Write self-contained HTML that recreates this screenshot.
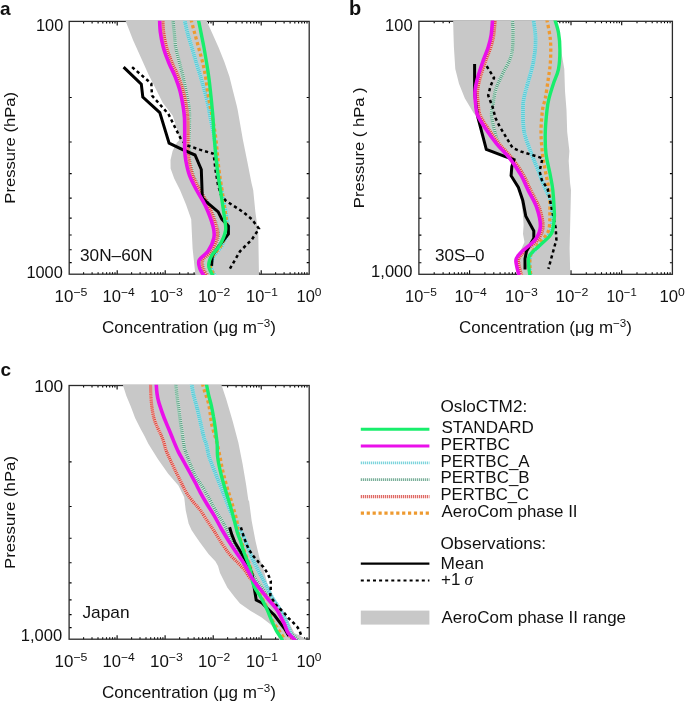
<!DOCTYPE html><html><head><meta charset="utf-8"><style>html,body{margin:0;padding:0;background:#fff;overflow:hidden;width:685px;height:703px;}svg{display:block;filter:blur(0.35px);}text{font-family:"Liberation Sans", sans-serif;fill:#111;}</style></head><body>
<svg width="685" height="703" viewBox="0 0 685 703">
<rect width="685" height="703" fill="#fff"/>
<defs>
<clipPath id="ca"><rect x="68.5" y="20.7" width="241.4" height="254.2"/></clipPath>
<clipPath id="cb"><rect x="418.2" y="20.6" width="254.9" height="254.4"/></clipPath>
<clipPath id="cc"><rect x="68.4" y="384.8" width="241.5" height="255.1"/></clipPath>
</defs>
<path d="M83.6 274.2 v-2 M83.6 21.4 v2 M92.1 274.2 v-2 M92.1 21.4 v2 M98.1 274.2 v-2 M98.1 21.4 v2 M102.8 274.2 v-2 M102.8 21.4 v2 M106.6 274.2 v-2 M106.6 21.4 v2 M109.8 274.2 v-2 M109.8 21.4 v2 M112.5 274.2 v-2 M112.5 21.4 v2 M115 274.2 v-2 M115 21.4 v2 M117.2 274.2 v-4 M117.2 21.4 v4 M131.6 274.2 v-2 M131.6 21.4 v2 M140.1 274.2 v-2 M140.1 21.4 v2 M146.1 274.2 v-2 M146.1 21.4 v2 M150.8 274.2 v-2 M150.8 21.4 v2 M154.6 274.2 v-2 M154.6 21.4 v2 M157.8 274.2 v-2 M157.8 21.4 v2 M160.5 274.2 v-2 M160.5 21.4 v2 M163 274.2 v-2 M163 21.4 v2 M165.2 274.2 v-4 M165.2 21.4 v4 M179.6 274.2 v-2 M179.6 21.4 v2 M188.1 274.2 v-2 M188.1 21.4 v2 M194.1 274.2 v-2 M194.1 21.4 v2 M198.8 274.2 v-2 M198.8 21.4 v2 M202.6 274.2 v-2 M202.6 21.4 v2 M205.8 274.2 v-2 M205.8 21.4 v2 M208.5 274.2 v-2 M208.5 21.4 v2 M211 274.2 v-2 M211 21.4 v2 M213.2 274.2 v-4 M213.2 21.4 v4 M227.6 274.2 v-2 M227.6 21.4 v2 M236.1 274.2 v-2 M236.1 21.4 v2 M242.1 274.2 v-2 M242.1 21.4 v2 M246.8 274.2 v-2 M246.8 21.4 v2 M250.6 274.2 v-2 M250.6 21.4 v2 M253.8 274.2 v-2 M253.8 21.4 v2 M256.5 274.2 v-2 M256.5 21.4 v2 M259 274.2 v-2 M259 21.4 v2 M261.2 274.2 v-4 M261.2 21.4 v4 M275.6 274.2 v-2 M275.6 21.4 v2 M284.1 274.2 v-2 M284.1 21.4 v2 M290.1 274.2 v-2 M290.1 21.4 v2 M294.8 274.2 v-2 M294.8 21.4 v2 M298.6 274.2 v-2 M298.6 21.4 v2 M301.8 274.2 v-2 M301.8 21.4 v2 M304.5 274.2 v-2 M304.5 21.4 v2 M307 274.2 v-2 M307 21.4 v2 M69.2 97.5 h2.5 M309.2 97.5 h-2.5 M69.2 142 h2.5 M309.2 142 h-2.5 M69.2 173.6 h2.5 M309.2 173.6 h-2.5 M69.2 198.1 h2.5 M309.2 198.1 h-2.5 M69.2 218.1 h2.5 M309.2 218.1 h-2.5 M69.2 235 h2.5 M309.2 235 h-2.5 M69.2 249.7 h2.5 M309.2 249.7 h-2.5 M69.2 262.6 h2.5 M309.2 262.6 h-2.5" stroke="#000" stroke-width="1.1" fill="none"/>
<rect x="69.2" y="21.4" width="240" height="252.8" fill="none" stroke="#2a2a2a" stroke-width="1.3"/>
<path d="M434.2 274.3 v-2 M434.2 21.3 v2 M443.1 274.3 v-2 M443.1 21.3 v2 M449.4 274.3 v-2 M449.4 21.3 v2 M454.3 274.3 v-2 M454.3 21.3 v2 M458.4 274.3 v-2 M458.4 21.3 v2 M461.7 274.3 v-2 M461.7 21.3 v2 M464.7 274.3 v-2 M464.7 21.3 v2 M467.3 274.3 v-2 M467.3 21.3 v2 M469.6 274.3 v-4 M469.6 21.3 v4 M484.9 274.3 v-2 M484.9 21.3 v2 M493.8 274.3 v-2 M493.8 21.3 v2 M500.1 274.3 v-2 M500.1 21.3 v2 M505 274.3 v-2 M505 21.3 v2 M509.1 274.3 v-2 M509.1 21.3 v2 M512.4 274.3 v-2 M512.4 21.3 v2 M515.4 274.3 v-2 M515.4 21.3 v2 M518 274.3 v-2 M518 21.3 v2 M520.3 274.3 v-4 M520.3 21.3 v4 M535.6 274.3 v-2 M535.6 21.3 v2 M544.5 274.3 v-2 M544.5 21.3 v2 M550.8 274.3 v-2 M550.8 21.3 v2 M555.7 274.3 v-2 M555.7 21.3 v2 M559.8 274.3 v-2 M559.8 21.3 v2 M563.1 274.3 v-2 M563.1 21.3 v2 M566.1 274.3 v-2 M566.1 21.3 v2 M568.7 274.3 v-2 M568.7 21.3 v2 M571 274.3 v-4 M571 21.3 v4 M586.3 274.3 v-2 M586.3 21.3 v2 M595.2 274.3 v-2 M595.2 21.3 v2 M601.5 274.3 v-2 M601.5 21.3 v2 M606.4 274.3 v-2 M606.4 21.3 v2 M610.5 274.3 v-2 M610.5 21.3 v2 M613.8 274.3 v-2 M613.8 21.3 v2 M616.8 274.3 v-2 M616.8 21.3 v2 M619.4 274.3 v-2 M619.4 21.3 v2 M621.7 274.3 v-4 M621.7 21.3 v4 M637 274.3 v-2 M637 21.3 v2 M645.9 274.3 v-2 M645.9 21.3 v2 M652.2 274.3 v-2 M652.2 21.3 v2 M657.1 274.3 v-2 M657.1 21.3 v2 M661.2 274.3 v-2 M661.2 21.3 v2 M664.5 274.3 v-2 M664.5 21.3 v2 M667.5 274.3 v-2 M667.5 21.3 v2 M670.1 274.3 v-2 M670.1 21.3 v2 M418.9 97.5 h2.5 M672.4 97.5 h-2.5 M418.9 142 h2.5 M672.4 142 h-2.5 M418.9 173.6 h2.5 M672.4 173.6 h-2.5 M418.9 198.1 h2.5 M672.4 198.1 h-2.5 M418.9 218.2 h2.5 M672.4 218.2 h-2.5 M418.9 235.1 h2.5 M672.4 235.1 h-2.5 M418.9 249.8 h2.5 M672.4 249.8 h-2.5 M418.9 262.7 h2.5 M672.4 262.7 h-2.5" stroke="#000" stroke-width="1.1" fill="none"/>
<rect x="418.9" y="21.3" width="253.5" height="253" fill="none" stroke="#2a2a2a" stroke-width="1.3"/>
<path d="M83.6 639.2 v-2 M83.6 385.5 v2 M92 639.2 v-2 M92 385.5 v2 M98 639.2 v-2 M98 385.5 v2 M102.7 639.2 v-2 M102.7 385.5 v2 M106.5 639.2 v-2 M106.5 385.5 v2 M109.7 639.2 v-2 M109.7 385.5 v2 M112.5 639.2 v-2 M112.5 385.5 v2 M114.9 639.2 v-2 M114.9 385.5 v2 M117.1 639.2 v-4 M117.1 385.5 v4 M131.6 639.2 v-2 M131.6 385.5 v2 M140 639.2 v-2 M140 385.5 v2 M146 639.2 v-2 M146 385.5 v2 M150.7 639.2 v-2 M150.7 385.5 v2 M154.5 639.2 v-2 M154.5 385.5 v2 M157.7 639.2 v-2 M157.7 385.5 v2 M160.5 639.2 v-2 M160.5 385.5 v2 M162.9 639.2 v-2 M162.9 385.5 v2 M165.1 639.2 v-4 M165.1 385.5 v4 M179.6 639.2 v-2 M179.6 385.5 v2 M188.1 639.2 v-2 M188.1 385.5 v2 M194.1 639.2 v-2 M194.1 385.5 v2 M198.7 639.2 v-2 M198.7 385.5 v2 M202.5 639.2 v-2 M202.5 385.5 v2 M205.7 639.2 v-2 M205.7 385.5 v2 M208.5 639.2 v-2 M208.5 385.5 v2 M211 639.2 v-2 M211 385.5 v2 M213.2 639.2 v-4 M213.2 385.5 v4 M227.6 639.2 v-2 M227.6 385.5 v2 M236.1 639.2 v-2 M236.1 385.5 v2 M242.1 639.2 v-2 M242.1 385.5 v2 M246.7 639.2 v-2 M246.7 385.5 v2 M250.5 639.2 v-2 M250.5 385.5 v2 M253.7 639.2 v-2 M253.7 385.5 v2 M256.5 639.2 v-2 M256.5 385.5 v2 M259 639.2 v-2 M259 385.5 v2 M261.2 639.2 v-4 M261.2 385.5 v4 M275.6 639.2 v-2 M275.6 385.5 v2 M284.1 639.2 v-2 M284.1 385.5 v2 M290.1 639.2 v-2 M290.1 385.5 v2 M294.7 639.2 v-2 M294.7 385.5 v2 M298.5 639.2 v-2 M298.5 385.5 v2 M301.8 639.2 v-2 M301.8 385.5 v2 M304.5 639.2 v-2 M304.5 385.5 v2 M307 639.2 v-2 M307 385.5 v2 M69.1 461.9 h2.5 M309.2 461.9 h-2.5 M69.1 506.5 h2.5 M309.2 506.5 h-2.5 M69.1 538.2 h2.5 M309.2 538.2 h-2.5 M69.1 562.8 h2.5 M309.2 562.8 h-2.5 M69.1 582.9 h2.5 M309.2 582.9 h-2.5 M69.1 599.9 h2.5 M309.2 599.9 h-2.5 M69.1 614.6 h2.5 M309.2 614.6 h-2.5 M69.1 627.6 h2.5 M309.2 627.6 h-2.5" stroke="#000" stroke-width="1.1" fill="none"/>
<rect x="69.1" y="385.5" width="240.1" height="253.7" fill="none" stroke="#2a2a2a" stroke-width="1.3"/>
<g clip-path="url(#ca)">
<path d="M125 19.4 L133 40 L142 60 L148.4 74.2 L155.6 88.4 L162.7 102.7 L172.6 115.5 L176.9 128.3 L179.7 139.7 L176.9 142.5 L172.6 151 L170.5 160 L170.6 168.4 L174.2 178.6 L180 190 L186 204.6 L191.2 219.2 L192.6 248.4 L195.5 276.2 L259 276.2 L258.3 233.8 L255.4 211.9 L253.2 190 L251.5 183 L247.2 161 L242.8 139.2 L237.7 110 L236.7 105.6 L233 91 L229.4 76.4 L224.3 61.8 L218.5 47.2 L211.9 32.6 L206 19.4 Z" fill="#c8c8c8"/>
<path d="M172.8 19.4 C173.1 22 174 30.4 174.5 35 C175 39.6 174.9 42.7 175.7 47.2 C176.5 51.7 178.1 56.9 179.3 61.8 C180.5 66.7 181.9 71.5 183 76.4 C184.1 81.3 185 86.1 186 91 C187 95.9 188.2 101.1 188.8 105.6 C189.4 110.1 189.6 113.1 189.6 118 C189.6 122.9 189.1 129.7 189 135 C188.9 140.3 188.8 145.7 189 150 C189.2 154.3 189.1 156.7 189.9 161 C190.7 165.3 191.8 170.9 193.6 175.7 C195.4 180.5 197.8 184.9 200.5 190 C203.2 195.1 206.7 199.9 209.5 206 C212.3 212.1 215.7 221.1 217.1 226.5 C218.5 231.9 218.7 234.1 217.8 238.2 C217 242.3 214.4 247.7 212 251.3 C209.6 254.9 204.5 257.1 203.2 260 C201.8 262.9 203.1 266.1 203.9 268.8 C204.8 271.5 207.6 275 208.3 276.2" stroke="#d4ece0" stroke-width="3.4" fill="none"/>
<path d="M172.8 19.4 C173.1 22 174 30.4 174.5 35 C175 39.6 174.9 42.7 175.7 47.2 C176.5 51.7 178.1 56.9 179.3 61.8 C180.5 66.7 181.9 71.5 183 76.4 C184.1 81.3 185 86.1 186 91 C187 95.9 188.2 101.1 188.8 105.6 C189.4 110.1 189.6 113.1 189.6 118 C189.6 122.9 189.1 129.7 189 135 C188.9 140.3 188.8 145.7 189 150 C189.2 154.3 189.1 156.7 189.9 161 C190.7 165.3 191.8 170.9 193.6 175.7 C195.4 180.5 197.8 184.9 200.5 190 C203.2 195.1 206.7 199.9 209.5 206 C212.3 212.1 215.7 221.1 217.1 226.5 C218.5 231.9 218.7 234.1 217.8 238.2 C217 242.3 214.4 247.7 212 251.3 C209.6 254.9 204.5 257.1 203.2 260 C201.8 262.9 203.1 266.1 203.9 268.8 C204.8 271.5 207.6 275 208.3 276.2" stroke="#5a9c80" stroke-width="3.4" fill="none" stroke-dasharray="1 1"/>
<path d="M184.5 19.4 C185 21.6 186.2 28 187.4 32.6 C188.6 37.2 190.4 42.3 191.8 47.2 C193.2 52.1 194.6 56.9 196 61.8 C197.4 66.7 199.1 71.5 200.5 76.4 C201.9 81.3 203.3 86.1 204.6 91 C205.9 95.9 207.2 101.1 208.2 105.6 C209.2 110.1 209.3 112.4 210.4 118 C211.5 123.6 213.3 130.7 214.5 139 C215.7 147.3 216.3 159.5 217.5 168 C218.7 176.5 220.3 183.8 221.5 190 C222.7 196.2 223.6 200.2 224.5 205 C225.4 209.8 226.4 214.7 227 219 C227.6 223.3 228.8 226.6 228 231 C227.2 235.4 224.3 241.3 222 245.5 C219.7 249.7 215.8 252.6 214 256 C212.2 259.4 210.8 262.6 211 266 C211.2 269.4 214.3 274.5 215 276.2" stroke="#b4e6ec" stroke-width="3.8" fill="none"/>
<path d="M184.5 19.4 C185 21.6 186.2 28 187.4 32.6 C188.6 37.2 190.4 42.3 191.8 47.2 C193.2 52.1 194.6 56.9 196 61.8 C197.4 66.7 199.1 71.5 200.5 76.4 C201.9 81.3 203.3 86.1 204.6 91 C205.9 95.9 207.2 101.1 208.2 105.6 C209.2 110.1 209.3 112.4 210.4 118 C211.5 123.6 213.3 130.7 214.5 139 C215.7 147.3 216.3 159.5 217.5 168 C218.7 176.5 220.3 183.8 221.5 190 C222.7 196.2 223.6 200.2 224.5 205 C225.4 209.8 226.4 214.7 227 219 C227.6 223.3 228.8 226.6 228 231 C227.2 235.4 224.3 241.3 222 245.5 C219.7 249.7 215.8 252.6 214 256 C212.2 259.4 210.8 262.6 211 266 C211.2 269.4 214.3 274.5 215 276.2" stroke="#5ccad4" stroke-width="3.8" fill="none" stroke-dasharray="1.3 0.7"/>
<path d="M191 19.4 C191.6 21.6 193.2 28 194.5 32.6 C195.8 37.2 197.2 42.3 198.5 47.2 C199.8 52.1 201.3 56.9 202.5 61.8 C203.7 66.7 204.7 71.5 205.5 76.4 C206.3 81.3 206.8 86.1 207.5 91 C208.2 95.9 209.2 101.1 210 105.6 C210.8 110.1 211.5 112.4 212.5 118 C213.5 123.6 214.9 130.8 215.9 139.2 C216.9 147.6 217.8 159.9 218.8 168.4 C219.8 176.9 221.1 184 222 190 C222.9 196 223.5 199.7 224.2 204.6 C224.9 209.5 225.8 214.8 226.3 219.2 C226.8 223.6 227.9 226.5 227.1 230.9 C226.2 235.3 223.5 241.4 221.2 245.5 C218.9 249.6 215 252.3 213.2 255.7 C211.4 259.1 210 262.5 210.3 265.9 C210.5 269.3 214 274.5 214.7 276.2" stroke="#ee9a30" stroke-width="3.3" fill="none" stroke-dasharray="3.2 2.7"/>
<path d="M162.9 19.4 C163 21.6 163.1 28 163.7 32.6 C164.3 37.2 165.3 42.3 166.6 47.2 C167.9 52.1 169.8 56.9 171.7 61.8 C173.7 66.7 176.4 71.5 178.3 76.4 C180.2 81.3 182 86.1 183.3 91 C184.6 95.9 185.6 101.1 186.3 105.6 C187.1 110.1 187.5 112.6 187.8 118 C188.1 123.4 188 132.9 188 138.2 C188 143.5 187.8 146.2 188 150 C188.2 153.8 188.4 156.7 189.2 161 C190 165.3 191.1 170.9 192.9 175.7 C194.7 180.5 197.2 184.9 199.8 190 C202.5 195.1 206 199.9 208.8 206 C211.6 212.1 215 221.1 216.4 226.5 C217.8 231.9 218 234.1 217.1 238.2 C216.3 242.3 213.7 247.7 211.3 251.3 C208.9 254.9 203.8 257.1 202.5 260 C201.2 262.9 202.4 266.1 203.2 268.8 C204.1 271.5 206.9 275 207.6 276.2" stroke="#f2bcb4" stroke-width="3.2" fill="none"/>
<path d="M162.9 19.4 C163 21.6 163.1 28 163.7 32.6 C164.3 37.2 165.3 42.3 166.6 47.2 C167.9 52.1 169.8 56.9 171.7 61.8 C173.7 66.7 176.4 71.5 178.3 76.4 C180.2 81.3 182 86.1 183.3 91 C184.6 95.9 185.6 101.1 186.3 105.6 C187.1 110.1 187.5 112.6 187.8 118 C188.1 123.4 188 132.9 188 138.2 C188 143.5 187.8 146.2 188 150 C188.2 153.8 188.4 156.7 189.2 161 C190 165.3 191.1 170.9 192.9 175.7 C194.7 180.5 197.2 184.9 199.8 190 C202.5 195.1 206 199.9 208.8 206 C211.6 212.1 215 221.1 216.4 226.5 C217.8 231.9 218 234.1 217.1 238.2 C216.3 242.3 213.7 247.7 211.3 251.3 C208.9 254.9 203.8 257.1 202.5 260 C201.2 262.9 202.4 266.1 203.2 268.8 C204.1 271.5 206.9 275 207.6 276.2" stroke="#d8443e" stroke-width="3.2" fill="none" stroke-dasharray="1 1"/>
<path d="M123.6 67.1 L141.3 84.2 L142.8 97 L159.8 112.6 L169.1 143.2 L182.6 149.6 L195 155 L201.3 169.5 L202.3 197.5 L205.8 201.5 L218.2 211.9 L221.8 219.2 L228.4 226 L228.4 234 L219 246 L212.3 255.7 L211.6 265.9" stroke="#000" stroke-width="3" fill="none" stroke-linejoin="miter"/>
<path d="M132.1 67.1 L151.3 83.5 L152 95.6 L168.4 114 L181.2 139.7 L186.9 145.3 L199.7 149.6 L213.6 153.8 L215.5 170 L218 185 L221 195 L226.2 201 L243 211.9 L251.8 219.2 L259 228.7 L251.8 239.6 L240 251.3 L229.9 268.8" stroke="#000" stroke-width="2.5" fill="none" stroke-dasharray="3.2 3"/>
<path d="M198.3 19.4 C198.8 21.6 200.1 28 201 32.6 C201.9 37.2 203 42.3 203.9 47.2 C204.8 52.1 205.6 56.9 206.4 61.8 C207.2 66.7 208 71.5 208.7 76.4 C209.4 81.3 209.9 86.1 210.4 91 C210.9 95.9 211.5 101.1 211.9 105.6 C212.3 110.1 212.6 112.4 213 118 C213.4 123.6 213.6 130.8 214.3 139.2 C215 147.6 216.2 159.9 217.2 168.4 C218.2 176.9 219.5 184 220.4 190 C221.3 196 221.9 199.7 222.6 204.6 C223.3 209.5 224.2 214.8 224.7 219.2 C225.2 223.6 226.3 226.5 225.5 230.9 C224.7 235.3 221.9 241.4 219.6 245.5 C217.3 249.6 213.4 252.3 211.6 255.7 C209.8 259.1 208.4 262.5 208.7 265.9 C208.9 269.3 212.4 274.5 213.1 276.2" stroke="#18ee6c" stroke-width="3.4" fill="none" stroke-linejoin="round"/>
<path d="M159.6 19.4 C159.7 21.6 159.8 28 160.4 32.6 C161 37.2 162 42.3 163.3 47.2 C164.6 52.1 166.5 56.9 168.4 61.8 C170.3 66.7 173.1 71.5 175 76.4 C176.9 81.3 178.7 86.1 180 91 C181.3 95.9 182.2 101.1 183 105.6 C183.8 110.1 184.2 112.6 184.5 118 C184.8 123.4 184.7 132.9 184.7 138.2 C184.7 143.5 184.5 146.2 184.7 150 C184.9 153.8 185.1 156.7 185.9 161 C186.7 165.3 187.8 170.9 189.6 175.7 C191.4 180.5 193.8 184.9 196.5 190 C199.2 195.1 202.7 199.9 205.5 206 C208.3 212.1 211.7 221.1 213.1 226.5 C214.5 231.9 214.7 234.1 213.8 238.2 C213 242.3 210.4 247.7 208 251.3 C205.6 254.9 200.5 257.1 199.2 260 C197.8 262.9 199.1 266.1 199.9 268.8 C200.8 271.5 203.6 275 204.3 276.2" stroke="#ea10ea" stroke-width="3.6" fill="none" stroke-linejoin="round"/>
</g>
<g clip-path="url(#cb)">
<path d="M453.1 19.3 L453.5 35 L453.9 47.2 L455.3 69.1 L459 83.7 L464.8 98.3 L473.6 112.9 L477.5 118 L479 121.7 L486.3 149.4 L505.3 156.7 L512 159 L511.5 166.9 L511 175.7 L518 187.4 L521 200 L523 215 L523.6 225 L523 234 L524.5 242 L520 252 L516 259 L517 268 L519 276.3 L570.3 276.3 L569.6 248.4 L570.3 219.2 L571 190 L570.1 183 L568.7 161 L569.4 150.9 L567.2 131.9 L566.5 110 L565 91 L564.3 69.1 L561 50 L560 35 L556.3 19.3 Z" fill="#c8c8c8"/>
<path d="M512.3 19.3 C512.4 21.5 513.1 26.7 513 32.6 C512.9 38.5 513.2 47.7 511.5 54.5 C509.8 61.3 505.4 67.9 502.8 73.5 C500.2 79.1 497.8 83.2 496.2 88.1 C494.6 93 494 97.7 493.3 102.7 C492.6 107.7 490.9 111.2 491.8 118 C492.8 124.8 495.6 136.9 499 143.6 C502.4 150.3 508 152.8 512.1 158.2 C516.2 163.5 520.6 170.2 523.8 175.7 C526.9 181.2 528.4 185.7 531 191 C533.6 196.3 537.2 201.6 539.2 207.5 C541.2 213.4 543.1 221.2 542.9 226.5 C542.7 231.8 540.8 235.5 537.8 239.6 C534.8 243.7 527.8 248.1 524.6 251.3 C521.4 254.5 519.7 256.3 518.8 258.6 C517.9 260.9 518.5 262.1 519 265 C519.5 267.9 521.2 274.4 521.7 276.3" stroke="#d4ece0" stroke-width="3.4" fill="none"/>
<path d="M512.3 19.3 C512.4 21.5 513.1 26.7 513 32.6 C512.9 38.5 513.2 47.7 511.5 54.5 C509.8 61.3 505.4 67.9 502.8 73.5 C500.2 79.1 497.8 83.2 496.2 88.1 C494.6 93 494 97.7 493.3 102.7 C492.6 107.7 490.9 111.2 491.8 118 C492.8 124.8 495.6 136.9 499 143.6 C502.4 150.3 508 152.8 512.1 158.2 C516.2 163.5 520.6 170.2 523.8 175.7 C526.9 181.2 528.4 185.7 531 191 C533.6 196.3 537.2 201.6 539.2 207.5 C541.2 213.4 543.1 221.2 542.9 226.5 C542.7 231.8 540.8 235.5 537.8 239.6 C534.8 243.7 527.8 248.1 524.6 251.3 C521.4 254.5 519.7 256.3 518.8 258.6 C517.9 260.9 518.5 262.1 519 265 C519.5 267.9 521.2 274.4 521.7 276.3" stroke="#5a9c80" stroke-width="3.4" fill="none" stroke-dasharray="1 1"/>
<path d="M533.4 19.3 C533.8 22.8 535.6 32.9 535.6 40 C535.6 47.1 534.7 54.5 533.4 61.8 C532.1 69.1 529.2 77.6 527.6 83.7 C526 89.8 524.7 93.9 523.9 98.3 C523.1 102.7 523 104.4 523 110 C523 115.6 522.8 124.6 524.2 131.9 C525.6 139.2 529.3 147.7 531.5 153.8 C533.7 159.9 535.2 162.8 537.4 168.4 C539.6 174 542.5 182.1 544.7 187.4 C546.9 192.8 549.3 195.9 550.5 200.5 C551.7 205.1 552.1 209.8 552 215 C551.9 220.2 551.8 227.2 550 232 C548.2 236.8 544.2 240.2 541 244 C537.8 247.8 532.9 251.3 531 255 C529.1 258.7 529.5 262.4 529.5 266 C529.5 269.6 530.8 274.6 531 276.3" stroke="#b4e6ec" stroke-width="3.8" fill="none"/>
<path d="M533.4 19.3 C533.8 22.8 535.6 32.9 535.6 40 C535.6 47.1 534.7 54.5 533.4 61.8 C532.1 69.1 529.2 77.6 527.6 83.7 C526 89.8 524.7 93.9 523.9 98.3 C523.1 102.7 523 104.4 523 110 C523 115.6 522.8 124.6 524.2 131.9 C525.6 139.2 529.3 147.7 531.5 153.8 C533.7 159.9 535.2 162.8 537.4 168.4 C539.6 174 542.5 182.1 544.7 187.4 C546.9 192.8 549.3 195.9 550.5 200.5 C551.7 205.1 552.1 209.8 552 215 C551.9 220.2 551.8 227.2 550 232 C548.2 236.8 544.2 240.2 541 244 C537.8 247.8 532.9 251.3 531 255 C529.1 258.7 529.5 262.4 529.5 266 C529.5 269.6 530.8 274.6 531 276.3" stroke="#5ccad4" stroke-width="3.8" fill="none" stroke-dasharray="1.3 0.7"/>
<path d="M546.8 19.3 C547.4 22.8 549.8 32.9 550.4 40 C551 47.1 550.8 55.2 550.4 61.8 C550 68.3 549.1 73.2 548.2 79.3 C547.4 85.4 546.2 93.2 545.3 98.3 C544.3 103.4 543.2 104.4 542.5 110 C541.8 115.6 541 124.6 541 131.9 C541 139.2 541.8 147.2 542.5 153.8 C543.2 160.4 544.3 165.2 545.4 171.3 C546.5 177.4 548.2 183.5 549 190.3 C549.8 197.1 550 205.1 549.9 211.9 C549.8 218.7 550.1 225.8 548.4 230.9 C546.7 236 542.5 238.8 539.6 242.6 C536.7 246.4 532.6 250.1 531 254 C529.4 257.9 530 262.3 530 266 C530 269.7 530.8 274.6 531 276.3" stroke="#ee9a30" stroke-width="3.3" fill="none" stroke-dasharray="3.2 2.7"/>
<path d="M495.2 19.3 C495 22 494.4 30.9 493.7 35.5 C493 40.1 492 43.3 490.8 47.2 C489.6 51.1 488.1 54 486.4 58.9 C484.7 63.8 482.1 71.1 480.6 76.4 C479.1 81.8 478 86.1 477.6 91 C477.2 95.9 478 101.6 478.4 105.6 C478.8 109.6 478.6 111.3 480.1 115 C481.6 118.7 484.2 122.7 487.4 127.5 C490.6 132.3 495 138.5 499.1 143.6 C503.2 148.7 508.1 152.8 512.2 158.2 C516.3 163.5 520.8 170.2 523.9 175.7 C527 181.2 528.5 185.7 531.1 191 C533.7 196.3 537.3 201.6 539.3 207.5 C541.3 213.4 543.2 221.2 543 226.5 C542.8 231.8 540.9 235.5 537.9 239.6 C534.9 243.7 527.9 248.1 524.7 251.3 C521.5 254.5 519.8 256.3 518.9 258.6 C518 260.9 518.6 262.1 519.1 265 C519.6 267.9 521.4 274.4 521.8 276.3" stroke="#f2bcb4" stroke-width="3.2" fill="none"/>
<path d="M495.2 19.3 C495 22 494.4 30.9 493.7 35.5 C493 40.1 492 43.3 490.8 47.2 C489.6 51.1 488.1 54 486.4 58.9 C484.7 63.8 482.1 71.1 480.6 76.4 C479.1 81.8 478 86.1 477.6 91 C477.2 95.9 478 101.6 478.4 105.6 C478.8 109.6 478.6 111.3 480.1 115 C481.6 118.7 484.2 122.7 487.4 127.5 C490.6 132.3 495 138.5 499.1 143.6 C503.2 148.7 508.1 152.8 512.2 158.2 C516.3 163.5 520.8 170.2 523.9 175.7 C527 181.2 528.5 185.7 531.1 191 C533.7 196.3 537.3 201.6 539.3 207.5 C541.3 213.4 543.2 221.2 543 226.5 C542.8 231.8 540.9 235.5 537.9 239.6 C534.9 243.7 527.9 248.1 524.7 251.3 C521.5 254.5 519.8 256.3 518.9 258.6 C518 260.9 518.6 262.1 519.1 265 C519.6 267.9 521.4 274.4 521.8 276.3" stroke="#d8443e" stroke-width="3.2" fill="none" stroke-dasharray="1 1"/>
<path d="M474.6 64 L474.6 91 L476 105 L478 118 L479 121.7 L486.3 149.4 L505.3 156.7 L514 159.6 L511.8 166.9 L511.1 175.7 L518.4 187.4 L522.8 200.5 L525.8 216.3 L533.8 230.9 L533.8 238.2 L526.5 251.3 L525 258.6 L525 269.6" stroke="#000" stroke-width="3" fill="none" stroke-linejoin="miter"/>
<path d="M486.7 66.2 L494 77.9 L490.4 86.6 L488.2 95.4 L492.6 107 L495.5 118 L499.4 126 L512.6 148 L521.3 151.6 L542.5 158.2 L539.6 171.3 L541.8 180 L547.6 188.8 L550 200 L553 215 L555.7 228 L556.4 239.6 L552.8 252.8 L548.4 268.8" stroke="#000" stroke-width="2.5" fill="none" stroke-dasharray="3.2 3"/>
<path d="M554.8 19.3 C555.4 21.5 557.6 27.5 558.5 32.6 C559.4 37.7 559.9 44 559.9 50.1 C559.9 56.2 559.6 63.5 558.5 69.1 C557.4 74.7 555 78.8 553.4 83.7 C551.8 88.6 550.1 93.9 549 98.3 C547.9 102.7 547.6 104.4 547 110 C546.4 115.6 545.5 124.6 545.3 131.9 C545.1 139.2 545.1 146.5 546 153.8 C546.9 161.1 549.3 169.7 550.4 175.7 C551.5 181.7 552.2 184.3 552.8 190 C553.4 195.7 554 205.1 554.2 210 C554.4 214.9 554.7 215.2 554.2 219.2 C553.7 223.2 553.7 229.4 551.3 233.8 C548.9 238.2 543.2 241.8 539.6 245.5 C536 249.2 531.2 252.3 529.4 255.7 C527.6 259.1 528.6 262.5 528.7 265.9 C528.8 269.3 529.9 274.6 530.1 276.3" stroke="#18ee6c" stroke-width="3.4" fill="none" stroke-linejoin="round"/>
<path d="M492.6 19.3 C492.4 22 491.8 30.9 491.1 35.5 C490.4 40.1 489.4 43.3 488.2 47.2 C487 51.1 485.5 54 483.8 58.9 C482.1 63.8 479.5 71.1 478 76.4 C476.5 81.8 475.4 86.1 475 91 C474.6 95.9 475.4 101.6 475.8 105.6 C476.2 109.6 476 111.3 477.5 115 C479 118.7 481.6 122.7 484.8 127.5 C488 132.3 492.4 138.5 496.5 143.6 C500.6 148.7 505.5 152.8 509.6 158.2 C513.7 163.5 518.1 170.2 521.3 175.7 C524.4 181.2 525.9 185.7 528.5 191 C531.1 196.3 534.7 201.6 536.7 207.5 C538.7 213.4 540.6 221.2 540.4 226.5 C540.2 231.8 538.3 235.5 535.3 239.6 C532.2 243.7 525.3 248.1 522.1 251.3 C518.9 254.5 517.2 256.3 516.3 258.6 C515.4 260.9 516 262.1 516.5 265 C517 267.9 518.8 274.4 519.2 276.3" stroke="#ea10ea" stroke-width="3.6" fill="none" stroke-linejoin="round"/>
</g>
<g clip-path="url(#cc)">
<path d="M122.4 383.5 L126.4 396.1 L130.8 406.6 L135.1 418 L139.5 426.8 L141.2 430 L144.5 436 L148.3 443.8 L158 459.2 L168.2 473.8 L178.4 485.5 L184.2 497.2 L185.7 510.3 L188.6 523.4 L191.5 530 L195.3 535.7 L200 542.6 L208.5 554 L215.5 561.5 L218 566 L220 573 L227.3 587.5 L234.6 597 L240 603.4 L250.7 610.9 L261.3 617.3 L271 624.8 L276.3 631.2 L279.5 641.2 L280 641.2 L309 641.2 L308.3 641.2 L299.8 635.4 L294.4 633.3 L290.2 624.8 L284.8 613 L277.4 602.4 L269.9 592.7 L266.7 581 L263 567 L259.5 558 L255.5 541 L251.7 521 L249.1 501.3 L248.3 500 L246.2 485.3 L242.6 464 L238.4 442.7 L232.7 421.3 L230 411.9 L226.1 398.8 L221 383.5 Z" fill="#c8c8c8"/>
<path d="M175.7 383.5 C175.9 385.6 176.5 391.8 177 396.1 C177.5 400.4 178.2 404.9 178.8 409.3 C179.4 413.7 179.9 418.3 180.5 422.4 C181.1 426.5 181.8 430.4 182.3 433.8 C182.8 437.2 183 440 183.6 443 C184.2 446 183.9 446.8 185.7 451.9 C187.5 457 191.4 467.4 194.5 473.8 C197.6 480.2 200.8 483.7 204.5 490 C208.2 496.3 213.2 506.1 216.4 511.8 C219.7 517.5 221.4 519 224 524 C226.6 529 229.3 536.6 232 541.5 C234.7 546.4 237.4 549.7 240 553.5 C242.6 557.3 244.9 560.3 247.5 564.5 C250.1 568.7 252.8 574.7 255.5 578.9 C258.2 583.1 260.8 586 263.5 589.5 C266.2 593 269 596.6 271.6 599.8 C274.2 603 277 605.8 279 608.5 C281 611.2 282.1 613.7 283.5 616.3 C284.9 618.9 286.2 621.5 287.4 624.1 C288.6 626.7 289.4 629.9 290.6 632 C291.8 634.1 293.1 635.1 294.5 636.6 C295.9 638.1 298.2 640.4 299 641.2" stroke="#d4ece0" stroke-width="3.4" fill="none"/>
<path d="M175.7 383.5 C175.9 385.6 176.5 391.8 177 396.1 C177.5 400.4 178.2 404.9 178.8 409.3 C179.4 413.7 179.9 418.3 180.5 422.4 C181.1 426.5 181.8 430.4 182.3 433.8 C182.8 437.2 183 440 183.6 443 C184.2 446 183.9 446.8 185.7 451.9 C187.5 457 191.4 467.4 194.5 473.8 C197.6 480.2 200.8 483.7 204.5 490 C208.2 496.3 213.2 506.1 216.4 511.8 C219.7 517.5 221.4 519 224 524 C226.6 529 229.3 536.6 232 541.5 C234.7 546.4 237.4 549.7 240 553.5 C242.6 557.3 244.9 560.3 247.5 564.5 C250.1 568.7 252.8 574.7 255.5 578.9 C258.2 583.1 260.8 586 263.5 589.5 C266.2 593 269 596.6 271.6 599.8 C274.2 603 277 605.8 279 608.5 C281 611.2 282.1 613.7 283.5 616.3 C284.9 618.9 286.2 621.5 287.4 624.1 C288.6 626.7 289.4 629.9 290.6 632 C291.8 634.1 293.1 635.1 294.5 636.6 C295.9 638.1 298.2 640.4 299 641.2" stroke="#5a9c80" stroke-width="3.4" fill="none" stroke-dasharray="1 1"/>
<path d="M191.5 383.5 C191.9 385.6 192.9 392.1 193.8 396 C194.7 399.9 195.9 403.3 196.8 407 C197.8 410.7 198.7 414.4 199.5 418 C200.3 421.6 201 425 201.8 428.5 C202.6 432 203.6 436.4 204.3 439 C205.1 441.6 205.5 441 206.3 444 C207.1 447 207.8 452.4 209.2 456.9 C210.6 461.4 212.8 466.4 214.6 471.1 C216.4 475.8 218.4 480.8 220.2 485.3 C222 489.8 223.7 494.1 225.3 498.2 C226.9 502.3 228.4 506.2 230 510 C231.6 513.8 232.7 516.8 234.8 521 C236.9 525.2 240.6 530.9 242.7 535 C244.8 539.1 245.6 541.9 247.1 545.5 C248.6 549.1 250 553.1 251.5 556.5 C253 559.9 254.4 562.8 256 566 C257.6 569.2 259.2 572.3 261 575.7 C262.8 579.1 264.6 582.6 266.5 586.3 C268.4 590 270.2 594.2 272.5 598.1 C274.8 602 277.7 605.8 280 609.8 C282.3 613.8 285 618.6 286.5 622 C288 625.4 288.2 627.7 289 630 C289.8 632.3 290.5 634.1 291 636 C291.5 637.9 291.8 640.3 292 641.2" stroke="#b4e6ec" stroke-width="3.8" fill="none"/>
<path d="M191.5 383.5 C191.9 385.6 192.9 392.1 193.8 396 C194.7 399.9 195.9 403.3 196.8 407 C197.8 410.7 198.7 414.4 199.5 418 C200.3 421.6 201 425 201.8 428.5 C202.6 432 203.6 436.4 204.3 439 C205.1 441.6 205.5 441 206.3 444 C207.1 447 207.8 452.4 209.2 456.9 C210.6 461.4 212.8 466.4 214.6 471.1 C216.4 475.8 218.4 480.8 220.2 485.3 C222 489.8 223.7 494.1 225.3 498.2 C226.9 502.3 228.4 506.2 230 510 C231.6 513.8 232.7 516.8 234.8 521 C236.9 525.2 240.6 530.9 242.7 535 C244.8 539.1 245.6 541.9 247.1 545.5 C248.6 549.1 250 553.1 251.5 556.5 C253 559.9 254.4 562.8 256 566 C257.6 569.2 259.2 572.3 261 575.7 C262.8 579.1 264.6 582.6 266.5 586.3 C268.4 590 270.2 594.2 272.5 598.1 C274.8 602 277.7 605.8 280 609.8 C282.3 613.8 285 618.6 286.5 622 C288 625.4 288.2 627.7 289 630 C289.8 632.3 290.5 634.1 291 636 C291.5 637.9 291.8 640.3 292 641.2" stroke="#5ccad4" stroke-width="3.8" fill="none" stroke-dasharray="1.3 0.7"/>
<path d="M202.4 383.5 C202.8 385 204.2 390.1 205 392.6 C205.8 395.2 206.5 396.6 207.2 398.8 C207.9 401 208.5 403.2 209 405.8 C209.5 408.4 209.9 411.6 210.3 414.5 C210.7 417.4 210.9 420.2 211.5 423.3 C212.1 426.4 213.1 429.8 214 433 C214.9 436.2 216 438.7 217 442.7 C218 446.7 219 452.2 220 456.9 C221 461.6 221.7 466.4 222.8 471.1 C223.9 475.8 225.2 480.8 226.5 485.3 C227.8 489.8 229.3 494.4 230.5 498.2 C231.7 502 232.4 504.6 233.5 508.4 C234.6 512.2 236.1 516.9 236.9 521 C237.7 525.1 237.5 529.5 238.3 533 C239.1 536.5 240.5 538.8 241.6 542 C242.7 545.2 243.6 549.2 244.8 552.5 C246 555.8 247.5 559.1 248.6 562 C249.7 564.9 250.6 567.3 251.3 570 C252 572.7 252 575.3 252.6 578 C253.2 580.7 253.2 582.9 254.8 586.3 C256.4 589.6 259.9 594.2 262.1 598.1 C264.3 602 266.3 606.1 268 609.8 C269.7 613.5 270.5 616.9 272.4 620.5 C274.3 624.1 277.6 628.2 279.5 631.2 C281.4 634.2 283.1 636.9 284 638.6 C284.9 640.3 284.8 640.8 285 641.2" stroke="#ee9a30" stroke-width="3.3" fill="none" stroke-dasharray="3.2 2.7"/>
<path d="M150.5 383.5 C150.6 385.6 150.6 391.8 150.9 396.1 C151.2 400.4 151.6 405.4 152.2 409.3 C152.8 413.2 153.4 416.6 154.4 419.8 C155.4 423 156.7 425.9 157.9 428.5 C159.1 431.1 160.4 433.2 161.4 435.6 C162.4 438 163.1 440.3 164 443 C164.9 445.7 164.8 447.2 166.7 451.9 C168.6 456.5 172.3 464.3 175.5 470.9 C178.7 477.5 182.9 486.3 185.7 491.3 C188.5 496.3 190.1 497.9 192.5 501 C194.9 504.1 197.3 506.3 200 509.9 C202.7 513.5 206 519 208.5 522.7 C211 526.5 212.7 528.8 215 532.4 C217.3 536 219.9 540.5 222.3 544.1 C224.7 547.8 227.1 551.2 229.6 554.3 C232.1 557.3 235.1 559.8 237.5 562.4 C239.9 565 242.1 567 244.2 569.6 C246.3 572.2 247.7 575.1 250 578 C252.3 580.9 255.3 584 258 587 C260.7 590 263.3 593 266 596 C268.7 599 271.6 601.7 274 605 C276.4 608.3 278.6 611.8 280.5 616 C282.4 620.2 283.9 626.6 285.5 630 C287.1 633.4 288.4 634.6 290 636.5 C291.6 638.4 294.2 640.4 295 641.2" stroke="#f2bcb4" stroke-width="3.2" fill="none"/>
<path d="M150.5 383.5 C150.6 385.6 150.6 391.8 150.9 396.1 C151.2 400.4 151.6 405.4 152.2 409.3 C152.8 413.2 153.4 416.6 154.4 419.8 C155.4 423 156.7 425.9 157.9 428.5 C159.1 431.1 160.4 433.2 161.4 435.6 C162.4 438 163.1 440.3 164 443 C164.9 445.7 164.8 447.2 166.7 451.9 C168.6 456.5 172.3 464.3 175.5 470.9 C178.7 477.5 182.9 486.3 185.7 491.3 C188.5 496.3 190.1 497.9 192.5 501 C194.9 504.1 197.3 506.3 200 509.9 C202.7 513.5 206 519 208.5 522.7 C211 526.5 212.7 528.8 215 532.4 C217.3 536 219.9 540.5 222.3 544.1 C224.7 547.8 227.1 551.2 229.6 554.3 C232.1 557.3 235.1 559.8 237.5 562.4 C239.9 565 242.1 567 244.2 569.6 C246.3 572.2 247.7 575.1 250 578 C252.3 580.9 255.3 584 258 587 C260.7 590 263.3 593 266 596 C268.7 599 271.6 601.7 274 605 C276.4 608.3 278.6 611.8 280.5 616 C282.4 620.2 283.9 626.6 285.5 630 C287.1 633.4 288.4 634.6 290 636.5 C291.6 638.4 294.2 640.4 295 641.2" stroke="#d8443e" stroke-width="3.2" fill="none" stroke-dasharray="1 1"/>
<path d="M229.6 527.3 L231.8 534.6 L234.7 541.9 L239.1 549.2 L244.2 558 L249.5 567 L252 574 L254.5 589.5 L256.2 600 L262 603 L266.7 607.7 L274.5 615.3 L280.6 623.7 L284.8 629 L288.8 636" stroke="#000" stroke-width="3" fill="none" stroke-linejoin="miter"/>
<path d="M240.9 527.3 L244.2 538.2 L248.6 549.2 L253.7 556.5 L258.8 562.3 L263.5 567 L267.7 573.5 L270.8 581 L270.7 589.5 L270.3 595.2 L275 603.8 L279.7 608.5 L284.4 613.2 L288.3 617.9 L292.3 621.8 L297 626.5 L299.5 630.5 L301.5 636.5" stroke="#000" stroke-width="2.5" fill="none" stroke-dasharray="3.2 3"/>
<path d="M206.3 383.5 C206.7 385.3 207.7 390.8 208.5 394.4 C209.3 398 210.4 401.2 211.2 404.9 C212 408.5 212.8 412.6 213.4 416.3 C214.1 420 214.6 423.3 215.1 426.8 C215.6 430.3 216.1 434.3 216.4 437.3 C216.8 440.3 217 441.7 217.2 445 C217.4 448.3 217.1 452.5 217.6 456.9 C218.1 461.2 219.2 466.4 220.3 471.1 C221.4 475.8 222.7 480.8 224 485.3 C225.3 489.8 226.8 494.4 228 498.2 C229.2 502 229.9 504.6 231 508.4 C232.1 512.2 233.3 516.9 234.4 521 C235.5 525.1 236.4 529.5 237.5 533 C238.6 536.5 239.7 538.8 240.8 542 C241.9 545.2 242.8 549.2 244 552.5 C245.2 555.8 246.7 559.1 247.8 562 C248.9 564.9 249.8 567.3 250.5 570 C251.2 572.7 251.2 575.3 251.8 578 C252.4 580.7 252.4 582.9 254 586.3 C255.6 589.6 259.1 594.2 261.3 598.1 C263.5 602 265.5 606.1 267.2 609.8 C268.9 613.5 270 616.9 271.6 620.5 C273.2 624.1 274.9 628.2 276.6 631.2 C278.3 634.2 280.6 636.9 281.6 638.6 C282.6 640.3 282.4 640.8 282.5 641.2" stroke="#18ee6c" stroke-width="3.4" fill="none" stroke-linejoin="round"/>
<path d="M156.2 383.5 C156.3 385.2 156.6 390.4 157 393.5 C157.4 396.6 157.9 399.1 158.8 402.3 C159.7 405.5 161.3 409.9 162.3 412.8 C163.3 415.7 163.7 416.9 164.9 419.8 C166.1 422.7 167.9 427 169.3 430.3 C170.7 433.6 171.7 436.3 173.2 439.9 C174.7 443.5 176.6 448.2 178.4 451.9 C180.2 455.6 182.2 458.6 184 462 C185.8 465.4 187.6 468.5 189.5 472 C191.4 475.5 193.7 479.5 195.5 483 C197.3 486.5 198.6 489.3 200.5 492.8 C202.4 496.3 204.8 500.4 207.1 504.2 C209.4 508 211.8 511.5 214.2 515.6 C216.6 519.7 219 524.7 221.5 529 C224 533.3 226.4 537.4 229 541.5 C231.6 545.6 234.4 549.7 237 553.5 C239.6 557.3 241.9 560.3 244.5 564.5 C247.1 568.7 249.8 574.7 252.5 578.9 C255.2 583.1 257.8 586 260.5 589.5 C263.2 593 266 596.6 268.6 599.8 C271.2 603 274 605.8 276 608.5 C278 611.2 279.1 613.7 280.5 616.3 C281.9 618.9 283.2 621.5 284.4 624.1 C285.6 626.7 286.4 629.9 287.6 632 C288.8 634.1 290.1 635.1 291.5 636.6 C292.9 638.1 295.2 640.4 296 641.2" stroke="#ea10ea" stroke-width="3.6" fill="none" stroke-linejoin="round"/>
</g>
<path d="M360.8 429.3 H429.4" stroke="#18ee6c" stroke-width="3" fill="none" stroke-linejoin="round"/>
<path d="M360.8 446 H429.4" stroke="#ea10ea" stroke-width="3" fill="none" stroke-linejoin="round"/>
<path d="M360.8 462.9 H429.4" stroke="#5ccad4" stroke-width="2.8" fill="none" stroke-dasharray="1 1"/>
<path d="M360.8 479.7 H429.4" stroke="#5a9c80" stroke-width="2.8" fill="none" stroke-dasharray="1 1"/>
<path d="M360.8 496.6 H429.4" stroke="#d8443e" stroke-width="3.2" fill="none" stroke-dasharray="1 1"/>
<path d="M360.8 513.2 H429.4" stroke="#ee9a30" stroke-width="3.3" fill="none" stroke-dasharray="3.2 2.7"/>
<path d="M360.8 563.6 H429.4" stroke="#000" stroke-width="2.2"/>
<path d="M360.8 580.5 H429.4" stroke="#000" stroke-width="2.2" stroke-dasharray="3 3.1"/>
<rect x="360.8" y="610.6" width="68.6" height="14" fill="#c8c8c8"/>
<text id="La" transform="translate(0 14.6)" font-size="19" font-weight="bold">a</text>
<text id="Lb" transform="translate(349.1 14.8)" font-size="20" font-weight="bold">b</text>
<text id="Lc" transform="translate(0.4 375.8)" font-size="19" font-weight="bold">c</text>
<text id="a100" transform="translate(36 30.5) scale(1.0325 1)" font-size="15.8">100</text>
<text id="a1000" transform="translate(26.4 278.1) scale(1.0356 1)" font-size="15.8">1000</text>
<text id="b100" transform="translate(385.1 31) scale(1.0415 1)" font-size="15.8">100</text>
<text id="b1000" transform="translate(371.1 277.2) scale(1.0476 1)" font-size="15.8">1,000</text>
<text id="c100" transform="translate(34.3 392.3) scale(1.0973 1)" font-size="15.8">100</text>
<text id="c1000" transform="translate(20.7 641.2) scale(1.0483 1)" font-size="15.8">1,000</text>
<text id="xa0" transform="translate(54.5 301.5) scale(1.0748 1)" font-size="15.8">10<tspan font-size="11.5" dy="-5.6">−5</tspan></text>
<text id="xa1" transform="translate(102.5 301.5) scale(1.0535 1)" font-size="15.8">10<tspan font-size="11.5" dy="-5.6">−4</tspan></text>
<text id="xa2" transform="translate(150 301.5) scale(1.0740 1)" font-size="15.8">10<tspan font-size="11.5" dy="-5.6">−3</tspan></text>
<text id="xa3" transform="translate(198 301.5) scale(1.0535 1)" font-size="15.8">10<tspan font-size="11.5" dy="-5.6">−2</tspan></text>
<text id="xa4" transform="translate(246 301.5) scale(1.0395 1)" font-size="15.8">10<tspan font-size="11.5" dy="-5.6">−1</tspan></text>
<text id="xa5" transform="translate(296.5 301.5) scale(1.0436 1)" font-size="15.8">10<tspan font-size="11.5" dy="-5.6">0</tspan></text>
<text id="xb0" transform="translate(405 301.6) scale(1.0399 1)" font-size="15.8">10<tspan font-size="11.5" dy="-5.6">−5</tspan></text>
<text id="xb1" transform="translate(454.5 301.6) scale(1.0534 1)" font-size="15.8">10<tspan font-size="11.5" dy="-5.6">−4</tspan></text>
<text id="xb2" transform="translate(505 301.6) scale(1.0682 1)" font-size="15.8">10<tspan font-size="11.5" dy="-5.6">−3</tspan></text>
<text id="xb3" transform="translate(555.5 301.6) scale(1.0745 1)" font-size="15.8">10<tspan font-size="11.5" dy="-5.6">−2</tspan></text>
<text id="xb4" transform="translate(606.5 301.6) scale(0.9852 1)" font-size="15.8">10<tspan font-size="11.5" dy="-5.6">−1</tspan></text>
<text id="xb5" transform="translate(659.5 301.6) scale(1.0600 1)" font-size="15.8">10<tspan font-size="11.5" dy="-5.6">0</tspan></text>
<text id="xc0" transform="translate(54.5 666.5) scale(1.0748 1)" font-size="15.8">10<tspan font-size="11.5" dy="-5.6">−5</tspan></text>
<text id="xc1" transform="translate(102.5 666.5) scale(1.0535 1)" font-size="15.8">10<tspan font-size="11.5" dy="-5.6">−4</tspan></text>
<text id="xc2" transform="translate(150 666.5) scale(1.0740 1)" font-size="15.8">10<tspan font-size="11.5" dy="-5.6">−3</tspan></text>
<text id="xc3" transform="translate(198 666.5) scale(1.0535 1)" font-size="15.8">10<tspan font-size="11.5" dy="-5.6">−2</tspan></text>
<text id="xc4" transform="translate(246 666.5) scale(1.0395 1)" font-size="15.8">10<tspan font-size="11.5" dy="-5.6">−1</tspan></text>
<text id="xc5" transform="translate(296.5 666.5) scale(1.0436 1)" font-size="15.8">10<tspan font-size="11.5" dy="-5.6">0</tspan></text>
<text id="xta" transform="translate(102 333.4) scale(1.0166 1)" font-size="16.8">Concentration (μg m<tspan font-size="11.5" dy="-6.3">−3</tspan><tspan dy="6.3">)</tspan></text>
<text id="xtb" transform="translate(459 333.4) scale(1.0106 1)" font-size="16.8">Concentration (μg m<tspan font-size="11.5" dy="-6.3">−3</tspan><tspan dy="6.3">)</tspan></text>
<text id="xtc" transform="translate(102 698) scale(1.0166 1)" font-size="16.8">Concentration (μg m<tspan font-size="11.5" dy="-6.3">−3</tspan><tspan dy="6.3">)</tspan></text>
<text id="yta" transform="translate(15.2 147.8) rotate(-90) scale(1.0796 1)" font-size="15.4" text-anchor="middle">Pressure (hPa)</text>
<text id="ytb" transform="translate(364.3 147.8) rotate(-90) scale(1.0781 1)" font-size="15.4" text-anchor="middle">Pressure ( hPa )</text>
<text id="ytc" transform="translate(14.5 512.5) rotate(-90) scale(1.0934 1)" font-size="15.4" text-anchor="middle">Pressure (hPa)</text>
<text id="ra" transform="translate(80 260.6) scale(1.0761 1)" font-size="16">30N–60N</text>
<text id="rb" transform="translate(435 260.6) scale(1.0695 1)" font-size="16">30S–0</text>
<text id="rc" transform="translate(82.4 617.6) scale(1.0818 1)" font-size="16">Japan</text>
<text id="lg0" transform="translate(440.5 411.7) scale(1.0728 1)" font-size="16">OsloCTM2:</text>
<text id="lg1" transform="translate(441.5 433) scale(1.0642 1)" font-size="16">STANDARD</text>
<text id="lg2" transform="translate(440.4 449.7) scale(1.0786 1)" font-size="16">PERTBC</text>
<text id="lg3" transform="translate(440.5 466.7) scale(1.0597 1)" font-size="16">PERTBC_A</text>
<text id="lg4" transform="translate(440.5 483.4) scale(1.0597 1)" font-size="16">PERTBC_B</text>
<text id="lg5" transform="translate(440.5 500.1) scale(1.0430 1)" font-size="16">PERTBC_C</text>
<text id="lg6" transform="translate(441.5 516.7) scale(1.0563 1)" font-size="16">AeroCom phase II</text>
<text id="lg7" transform="translate(440.5 548.9) scale(1.0708 1)" font-size="16">Observations:</text>
<text id="lg8" transform="translate(440.5 569.2) scale(1.0818 1)" font-size="16">Mean</text>
<text id="lg9" transform="translate(441.5 623.2) scale(1.0592 1)" font-size="16">AeroCom phase II range</text>
<text id="lgs" transform="translate(441 584.6) scale(1.0600 1)" font-size="16">+1 <tspan dx="-0.5" font-family="Liberation Serif" font-style="italic" font-size="16">σ</tspan></text>
</svg></body></html>
